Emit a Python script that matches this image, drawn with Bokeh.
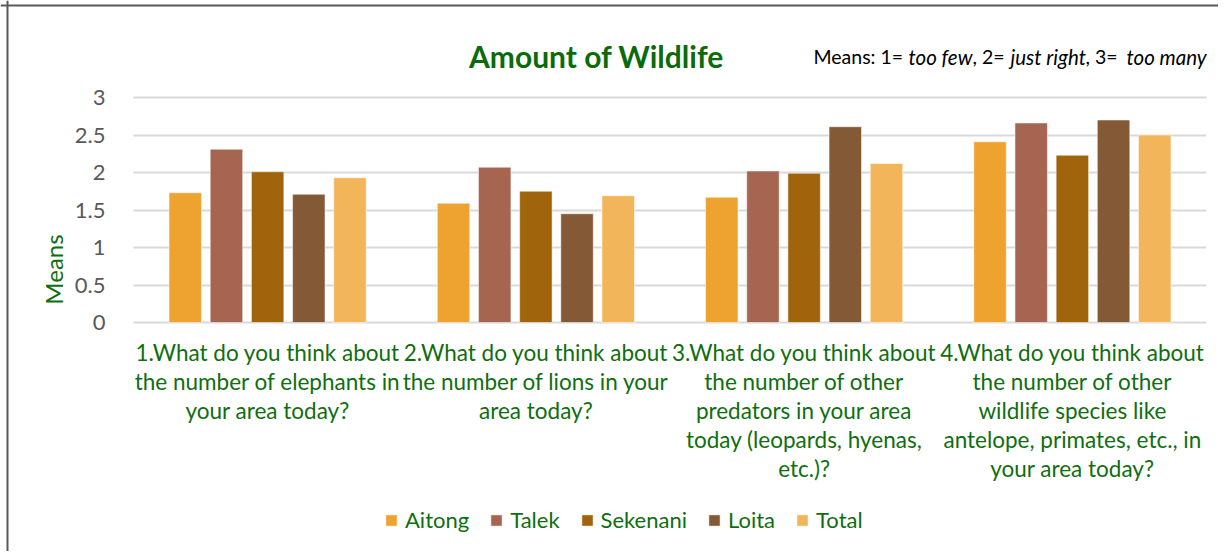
import math
from bokeh.plotting import figure
from bokeh.models import (Range1d, FixedTicker, Legend, LegendItem, Label,
                          LinearAxis, Span, Grid)
from bokeh.embed import file_html
from bokeh.resources import INLINE

# ---- data ----
questions = [
    "1.What do you think about\nthe number of elephants in\nyour area today?",
    "2.What do you think about\nthe number of lions in your\narea today?",
    "3.What do you think about\nthe number of other\npredators in your area\ntoday (leopards, hyenas,\netc.)?",
    "4.What do you think about\nthe number of other\nwildlife species like\nantelope, primates, etc., in\nyour area today?",
]
series_names = ["Aitong", "Talek", "Sekenani", "Loita", "Total"]
aitong = [1.73, 1.59, 1.67, 2.41]
talek = [2.31, 2.07, 2.02, 2.66]
sekenani = [2.01, 1.75, 1.99, 2.23]
loita = [1.71, 1.45, 2.61, 2.70]
total = [1.93, 1.69, 2.12, 2.50]
y_ticks = [0, 0.5, 1, 1.5, 2, 2.5, 3]
y_tick_labels = ["0", "0.5", "1", "1.5", "2", "2.5", "3"]
title_text = "Amount of Wildlife"
y_label = "Means"
note_parts = [("Means: 1=", "normal"), ("too few", "italic"), (", 2=", "normal"),
              ("just right", "italic"), (", 3=", "normal"), ("too many", "italic")]

colors = ["#EEA230", "#A66550", "#A0640C", "#835A35", "#F3B55A"]
GREEN = "#0F6E0F"
FONT = "Lato"

# ---- layout (picture pixels) ----
W, H = 1218, 551
PL, PR, PT, PB = 133, 1206, 97, 322   # plot area
n_groups = len(questions)
ymax = 3
ux = (PR - PL) / n_groups
uy = (PB - PT) / ymax
x_range = Range1d(-PL / ux, n_groups + (W - PR) / ux)
y_range = Range1d(-(H - PB) / uy, ymax + PT / uy)

def sx(px):  # picture x -> frame screen x
    return px

def sy(py):  # picture y -> frame screen y (from bottom)
    return H - py

def dx(px):  # picture x -> data x
    return (px - PL) / ux

def dy(py):  # picture y -> data y
    return (PB - py) / uy

centers = [i + 0.5 for i in range(n_groups)]
src = dict(Aitong=aitong, Talek=talek, Sekenani=sekenani, Loita=loita, Total=total)

p = figure(x_range=x_range, y_range=y_range, width=W, height=H,
           output_backend="svg", toolbar_location=None,
           min_border=0, min_border_left=0, min_border_right=0,
           min_border_top=0, min_border_bottom=0)
p.outline_line_color = None
p.background_fill_color = "white"
p.border_fill_color = "white"
p.xaxis.visible = False
p.yaxis.visible = False
p.xgrid.grid_line_color = None
p.ygrid.grid_line_color = None

# chart border (left & top visible)
p.add_layout(Span(location=dx(7), dimension="height", line_color="#595959", line_width=2))
p.add_layout(Span(location=dy(5), dimension="width", line_color="#595959", line_width=2))

# y axis at plot left
yax = LinearAxis(fixed_location=0, ticker=FixedTicker(ticks=y_ticks),
                 major_label_overrides={t: l for t, l in zip(y_ticks, y_tick_labels)})
yax.axis_line_color = None
yax.major_tick_line_color = None
yax.minor_tick_line_color = None
yax.major_label_text_font = FONT
yax.major_label_text_font_size = "22px"
yax.major_label_text_color = "#595959"
yax.major_label_standoff = 22
p.add_layout(yax, "left")

# y grid
g = Grid(dimension=1, ticker=FixedTicker(ticks=y_ticks), grid_line_color="#D9D9D9",
         grid_line_width=2)
if "cross_bounds" in g.properties():
    g.cross_bounds = (0, n_groups)
    p.add_layout(g)
else:
    for t in y_ticks:
        p.segment(x0=0, x1=n_groups, y0=t, y1=t, line_color="#D9D9D9", line_width=2)

# bars
pitch = 0.1535
renderers = []
for i, name in enumerate(series_names):
    xs = [c + (i - 2) * pitch for c in centers]
    r = p.vbar(x=xs, top=src[name], width=0.121, bottom=0,
               fill_color=colors[i], line_color="white", line_width=1, line_alpha=0.5)
    renderers.append((name, r))

# x category labels: one axis per text line
split = [q.split("\n") for q in questions]
n_lines = max(len(s) for s in split)
for k in range(n_lines):
    ax = LinearAxis(fixed_location=0, ticker=FixedTicker(ticks=centers),
                    major_label_overrides={c: (s[k] if k < len(s) else " ")
                                           for c, s in zip(centers, split)})
    ax.axis_line_color = None
    ax.major_tick_line_color = None
    ax.minor_tick_line_color = None
    ax.major_label_text_font = FONT
    ax.major_label_text_font_size = "22.5px"
    ax.major_label_text_color = GREEN
    ax.major_label_standoff = 10 + 29 * k
    p.add_layout(ax, "below")

# title and note
p.add_layout(Label(x=sx(596), y=sy(55), x_units="screen", y_units="screen",
                   text=title_text, text_font=FONT, text_font_style="bold",
                   text_font_size="30px", text_color="#0B6B0B",
                   text_align="center", text_baseline="middle"))
note_x = [813, 908, 972, 1010, 1085, 1126]
for (txt, style), xx in zip(note_parts, note_x):
    p.add_layout(Label(x=sx(xx), y=sy(56), x_units="screen", y_units="screen",
                       text=txt, text_font=FONT, text_font_style=style,
                       text_font_size="20.5px" if style == "italic" else "19.5px",
                       text_color="black",
                       text_align="left", text_baseline="middle"))

# y axis title
p.add_layout(Label(x=sx(53), y=sy(269), x_units="screen", y_units="screen",
                   text=y_label, text_font=FONT, text_font_size="24px",
                   text_color=GREEN, angle=math.pi / 2,
                   text_align="center", text_baseline="middle"))

legend = Legend(items=[LegendItem(label=n, renderers=[r]) for n, r in renderers],
                orientation="horizontal", location=(sx(384), sy(533)),
                glyph_width=14, glyph_height=14, label_standoff=7, spacing=20,
                padding=0, margin=0, border_line_color=None,
                background_fill_alpha=0,
                label_text_font=FONT, label_text_font_size="22px",
                label_text_color=GREEN)
p.add_layout(legend)

open("out.html", "w").write(file_html(p, INLINE))
